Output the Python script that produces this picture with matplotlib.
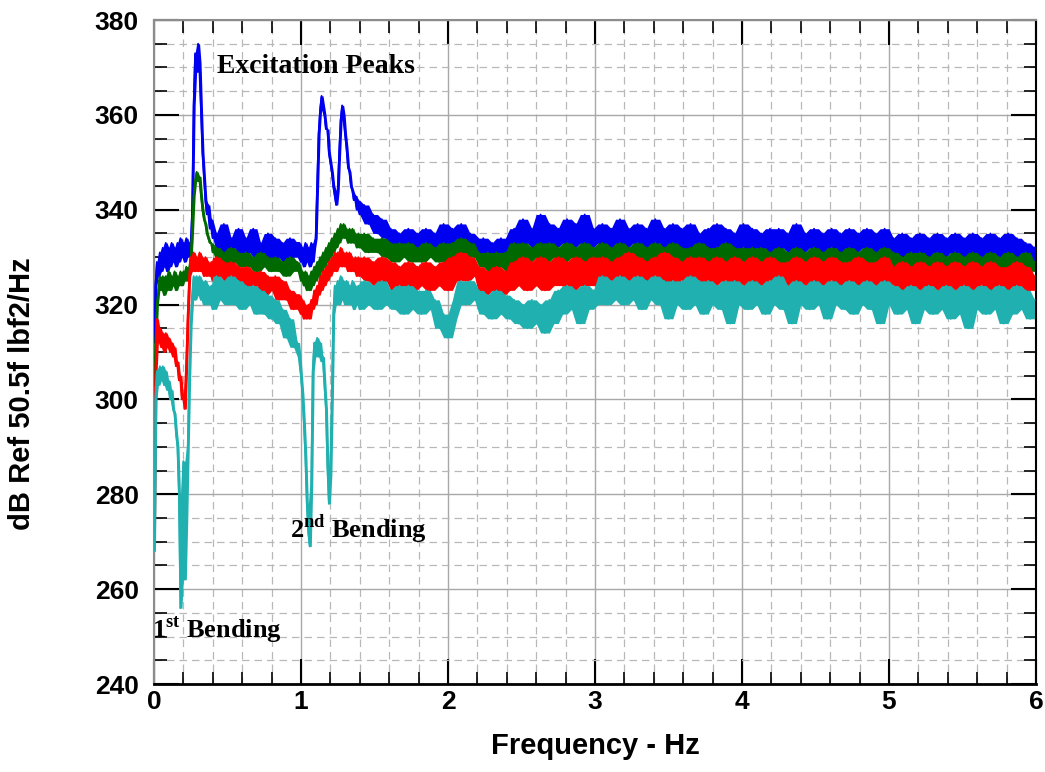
import numpy as np
import matplotlib
matplotlib.use("Agg")
import matplotlib.pyplot as plt
from matplotlib.ticker import MultipleLocator

plt.rcParams['font.family'] = ['Liberation Sans', 'DejaVu Sans']
plt.rcParams['mathtext.fontset'] = 'custom'
plt.rcParams['mathtext.rm'] = 'Liberation Serif:bold'
plt.rcParams['mathtext.bf'] = 'Liberation Serif:bold'

# -----------------------------
# FREQUENCY GRID (Hz): fine around the peaks / dips, coarser elsewhere
# -----------------------------
freq_a = np.round(np.arange(0.0, 0.401, 0.01), 3)      # 41 pts
freq_b = np.round(np.arange(0.425, 0.976, 0.025), 3)   # 23 pts
freq_c = np.round(np.arange(0.99, 1.401, 0.01), 3)     # 42 pts
freq_d = np.round(np.arange(1.43, 5.991, 0.03), 3)     # 153 pts
freq = np.concatenate([freq_a, freq_b, freq_c, freq_d])

# -----------------------------
# SPECTRA (dB)
# -----------------------------
blue_db = [
    # 0.00 - 0.40
    312, 324, 329, 326, 331, 327, 332, 328, 333, 327, 332, 328, 333, 329,
    332, 328, 333, 329, 334, 330, 333, 329, 334, 330, 333, 331, 340, 362,
    373, 369, 375, 371, 361, 352, 347, 342, 339, 341, 336, 338, 334,
    # 0.425 - 0.975
    335, 331, 337, 330, 334, 332, 336, 330, 334, 331, 336, 330, 333, 331,
    335, 329, 334, 330, 333, 329, 334, 330, 333,
    # 0.99 - 1.40
    333, 329, 332, 328, 333, 329, 332, 328, 333, 329, 332, 334, 345, 356,
    361, 364, 362, 360, 357, 357, 352, 350, 348, 345, 343, 341, 344, 352,
    359, 362, 360, 356, 353, 349, 348, 345, 344, 342, 343, 340, 342, 339,
    # 1.43 - 5.99
    341, 337, 339, 335, 338, 334, 336, 331, 335, 332,
    336, 331, 335, 330, 336, 332, 335, 331, 337, 332,
    336, 331, 337, 332, 335, 333, 330, 334, 330, 333,
    329, 334, 331, 333, 336, 332, 338, 333, 336, 332,
    339, 333, 337, 332, 336, 333, 338, 332, 337, 333,
    339, 332, 336, 333, 337, 331, 336, 332, 338, 332,
    336, 333, 337, 331, 336, 332, 338, 333, 336, 331,
    337, 332, 336, 331, 337, 332, 335, 331, 336, 332,
    337, 331, 336, 332, 335, 331, 337, 331, 336, 332,
    335, 331, 336, 330, 336, 332, 335, 331, 337, 331,
    335, 332, 336, 330, 335, 331, 336, 332, 335, 330,
    336, 331, 335, 332, 336, 330, 335, 331, 336, 331,
    334, 330, 335, 329, 334, 331, 335, 330, 334, 329,
    335, 330, 334, 331, 335, 329, 334, 330, 335, 330,
    334, 329, 335, 330, 334, 330, 335, 329, 334, 330,
    333, 329, 332,
]

green_db = [
    # 0.00 - 0.40
    303, 312, 320, 323, 326, 323, 326, 322, 326, 323, 327, 323, 326, 324,
    327, 323, 326, 324, 327, 324, 327, 325, 328, 325, 327, 330, 336, 343,
    346, 348, 346, 347, 343, 340, 338, 337, 335, 334, 333, 333, 331,
    # 0.425 - 0.975
    332, 329, 331, 328, 332, 329, 331, 328, 331, 328, 330, 327, 331, 328,
    330, 327, 330, 327, 329, 326, 330, 327, 329,
    # 0.99 - 1.40
    328, 325, 327, 324, 327, 323, 326, 323, 327, 324, 328, 325, 329, 326,
    330, 327, 331, 328, 332, 329, 333, 330, 334, 331, 335, 332, 336, 333,
    337, 334, 337, 334, 336, 333, 336, 333, 336, 333, 335, 332, 335, 332,
    # 1.43 - 5.99
    335, 331, 334, 331, 334, 330, 333, 329, 333, 330,
    333, 329, 332, 329, 333, 330, 332, 329, 333, 329,
    333, 330, 334, 330, 333, 330, 331, 328, 331, 327,
    331, 328, 331, 327, 333, 329, 333, 329, 332, 330,
    333, 329, 333, 330, 332, 329, 333, 330, 332, 329,
    333, 329, 332, 330, 333, 329, 332, 328, 333, 329,
    332, 329, 333, 328, 332, 329, 333, 329, 332, 328,
    333, 329, 332, 328, 332, 329, 333, 328, 332, 329,
    332, 328, 333, 329, 332, 328, 332, 329, 332, 328,
    332, 329, 331, 328, 332, 328, 331, 329, 332, 328,
    331, 328, 332, 329, 331, 328, 332, 328, 331, 329,
    332, 328, 331, 329, 332, 328, 331, 328, 332, 328,
    331, 327, 330, 328, 331, 327, 331, 328, 330, 327,
    331, 328, 330, 327, 331, 327, 330, 328, 331, 327,
    330, 328, 331, 327, 330, 327, 331, 328, 330, 327,
    331, 327, 329,
]

red_db = [
    # 0.00 - 0.40
    272, 305, 317, 312, 315, 311, 314, 310, 314, 311, 313, 310, 312, 309,
    311, 307, 308, 304, 305, 300, 301, 298, 308, 318, 326, 330, 327, 331,
    327, 330, 327, 331, 327, 330, 326, 330, 326, 329, 326, 329, 325,
    # 0.425 - 0.975
    330, 326, 329, 325, 329, 324, 328, 325, 328, 323, 327, 324, 327, 322,
    326, 323, 326, 321, 325, 321, 323, 319, 322,
    # 0.99 - 1.40
    322, 318, 321, 317, 320, 317, 320, 317, 321, 319, 323, 320, 324, 322,
    326, 323, 327, 324, 328, 325, 329, 326, 330, 327, 331, 327, 331, 328,
    332, 328, 331, 328, 331, 327, 331, 327, 330, 327, 330, 326, 330, 326,
    # 1.43 - 5.99
    330, 325, 329, 324, 330, 325, 329, 323, 328, 324,
    329, 323, 328, 324, 329, 323, 328, 324, 329, 323,
    330, 325, 331, 325, 330, 326, 328, 322, 327, 323,
    328, 322, 327, 323, 329, 324, 330, 323, 329, 324,
    330, 323, 329, 324, 330, 324, 329, 323, 330, 324,
    329, 324, 330, 324, 330, 325, 329, 324, 330, 324,
    331, 324, 330, 325, 329, 324, 330, 325, 331, 324,
    330, 325, 329, 324, 330, 324, 330, 325, 329, 324,
    330, 325, 329, 324, 330, 324, 329, 323, 330, 324,
    329, 324, 330, 323, 329, 324, 329, 323, 330, 324,
    329, 323, 330, 324, 329, 324, 330, 323, 329, 324,
    329, 323, 330, 324, 329, 323, 329, 324, 330, 323,
    328, 323, 329, 322, 328, 323, 329, 323, 328, 322,
    329, 323, 328, 322, 329, 323, 328, 322, 329, 323,
    328, 322, 329, 323, 328, 322, 328, 323, 329, 322,
    328, 323, 326,
]

cyan_db = [
    # 0.00 - 0.40
    268, 300, 306, 303, 307, 304, 307, 303, 306, 302, 304, 300, 302, 298,
    297, 293, 290, 280, 256, 272, 287, 262, 275, 290, 305, 316, 322, 326,
    321, 326, 322, 326, 321, 325, 320, 325, 320, 324, 320, 324, 319,
    # 0.425 - 0.975
    326, 321, 325, 320, 326, 320, 325, 319, 324, 320, 324, 318, 323, 318,
    322, 317, 321, 316, 319, 313, 317, 311, 312,
    # 0.99 - 1.40
    309, 305, 301, 295, 288, 278, 272, 269, 282, 306, 312, 309, 313, 309,
    312, 308, 309, 303, 298, 286, 278, 284, 300, 318, 324, 320, 325, 320,
    326, 321, 325, 320, 325, 320, 324, 320, 325, 319, 324, 320, 324, 319,
    # 1.43 - 5.99
    325, 320, 324, 319, 325, 320, 323, 319, 324, 318,
    324, 319, 323, 318, 323, 319, 321, 315, 318, 313,
    317, 321, 325, 320, 325, 321, 323, 318, 322, 317,
    323, 318, 322, 317, 321, 316, 320, 315, 321, 316,
    320, 314, 321, 316, 323, 318, 324, 319, 323, 316,
    324, 319, 323, 320, 326, 320, 325, 321, 326, 320,
    325, 321, 326, 319, 325, 321, 326, 320, 325, 317,
    325, 320, 325, 319, 326, 320, 325, 318, 325, 320,
    324, 319, 325, 316, 325, 320, 324, 319, 325, 320,
    324, 318, 325, 320, 326, 319, 324, 316, 325, 320,
    324, 319, 325, 320, 324, 317, 325, 320, 324, 319,
    325, 318, 324, 320, 325, 319, 324, 316, 325, 320,
    324, 318, 323, 319, 324, 316, 323, 319, 324, 318,
    323, 319, 324, 317, 323, 318, 324, 315, 323, 319,
    324, 318, 323, 319, 324, 316, 323, 318, 324, 319,
    323, 317, 321,
]

series = [
    (blue_db, '#0000f0'),
    (green_db, '#006a00'),
    (red_db, '#ff0000'),
    (cyan_db, '#20b0b0'),
]


def envelope(values):
    """Local min / max over neighbouring samples, so the noisy trace reads as a band."""
    v = np.asarray(values, dtype=float)
    padded = np.concatenate([[v[0]], v, [v[-1]]])
    stack = np.vstack([padded[:-2], padded[1:-1], padded[2:]])
    return stack.min(axis=0), stack.max(axis=0)


# -----------------------------
# PLOT
# -----------------------------
fig = plt.figure(figsize=(10.45, 7.72), dpi=100)
ax = fig.add_axes([154 / 1045, 1 - 684 / 772, 882 / 1045, 664 / 772])

for values, color in series:
    lo, hi = envelope(values)
    ax.fill_between(freq, lo, hi, color=color, lw=0, zorder=3)
    ax.plot(freq, values, color=color, lw=1.3, zorder=3)

ax.set_xlim(0, 6)
ax.set_ylim(240, 380)
ax.xaxis.set_major_locator(MultipleLocator(1))
ax.xaxis.set_minor_locator(MultipleLocator(0.2))
ax.yaxis.set_major_locator(MultipleLocator(20))
ax.yaxis.set_minor_locator(MultipleLocator(5))

ax.grid(which='major', color='#a8a8a8', lw=1.0, ls='-', zorder=0)
ax.grid(which='minor', color='#b8b8b8', lw=0.9, ls=(0, (6, 4)), zorder=0)
ax.set_axisbelow(True)

ax.tick_params(which='both', direction='in', top=True, right=True, color='black')
ax.tick_params(which='major', length=18, width=1.5)
ax.tick_params(which='minor', length=9, width=1.2)
ax.tick_params(axis='y', which='major', pad=11, labelsize=19)
ax.tick_params(axis='x', which='major', pad=4, labelsize=19)
for lab in ax.get_xticklabels() + ax.get_yticklabels():
    lab.set_fontweight('bold')

for side in ['left', 'top']:
    ax.spines[side].set_color('#8c8c8c')
    ax.spines[side].set_linewidth(1.5)
ax.spines['right'].set_color('black')
ax.spines['right'].set_linewidth(1.5)
ax.spines['bottom'].set_color('black')
ax.spines['bottom'].set_linewidth(2)

fig.text(595 / 1045, 1 - 746 / 772, "Frequency - Hz", ha='center', va='center',
         fontsize=21, fontweight='bold')
fig.text(22 / 1045, 1 - 394 / 772, "dB Ref 50.5f lbf2/Hz", ha='center', va='center',
         rotation=90, fontsize=21, fontweight='bold')

# annotations
ann_font = dict(family='Liberation Serif', fontweight='bold', color='black')
ax.text(0.43, 368.8, "Excitation Peaks", ha='left', va='baseline', zorder=5,
        fontsize=20, **ann_font)
ax.text(0.925, 270.9, r"2$^{\mathrm{nd}}$ Bending", ha='left', va='baseline', zorder=5,
        fontsize=19, **ann_font)
ax.text(-0.014, 249.9, r"1$^{\mathrm{st}}$ Bending", ha='left', va='baseline', zorder=5,
        fontsize=19, **ann_font)

fig.savefig("out.png", dpi=100, facecolor='white')
